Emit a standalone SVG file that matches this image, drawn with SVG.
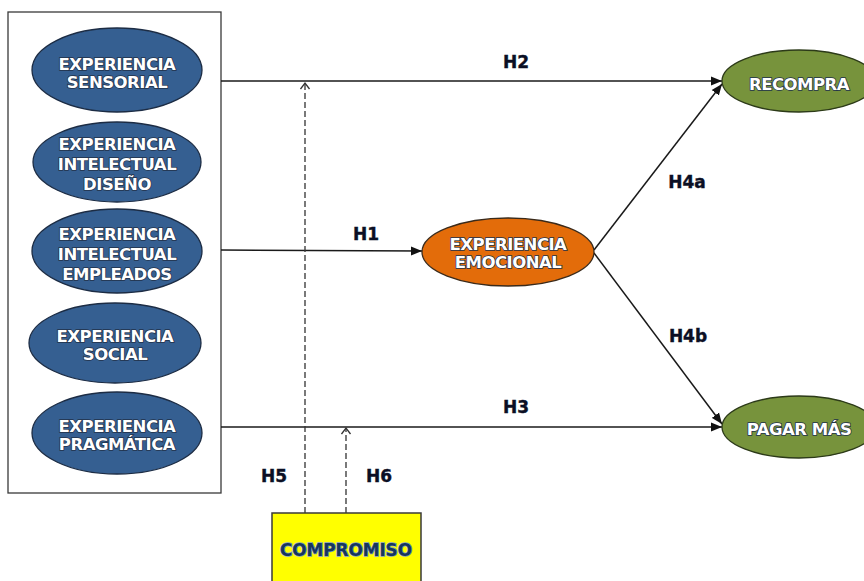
<svg xmlns="http://www.w3.org/2000/svg" width="864" height="581" viewBox="0 0 864 581">
  <style>
    .bg { fill: #ffffff; }
    .frame { fill: #ffffff; stroke: #3a3a3a; stroke-width: 1.3; }
    .blue { fill: #355F91; stroke: #1c2c44; stroke-width: 1.3; }
    .orange { fill: #E36C0A; stroke: #3a2a1a; stroke-width: 1.3; }
    .green { fill: #77933C; stroke: #2c3a18; stroke-width: 1.3; }
    .yellow { fill: #FFFF00; stroke: #3a3a3a; stroke-width: 1.5; }
    .nt { font-family: "DejaVu Sans", Verdana, sans-serif; font-weight: bold; font-size: 16.5px; letter-spacing: -0.5px; fill: #ffffff; stroke: #22324a; stroke-width: 1.6px; paint-order: stroke; text-anchor: middle; }
    .ct { font-family: "DejaVu Sans", Verdana, sans-serif; font-weight: bold; font-size: 17px; letter-spacing: -0.2px; fill: #17365D; stroke: #7fa0c8; stroke-width: 1.4px; paint-order: stroke; text-anchor: middle; }
    .lbl { font-family: "DejaVu Sans", Verdana, sans-serif; font-weight: bold; font-size: 17px; fill: #0b0f24; stroke: #0b0f24; stroke-width: 0.4px; text-anchor: middle; }
    .solid { fill: none; stroke: #1a1a1a; stroke-width: 1.5; }
    .dash { fill: none; stroke: #333333; stroke-width: 1.3; stroke-dasharray: 6 3; }
  </style>
  <defs>
    <marker id="arrow" markerUnits="userSpaceOnUse" markerWidth="12" markerHeight="10" refX="11" refY="5" orient="auto">
      <path d="M0,0.5 L11,5 L0,9.5 z" fill="#111111"/>
    </marker>
    <marker id="chev" markerUnits="userSpaceOnUse" markerWidth="10" markerHeight="12" refX="7" refY="5" orient="auto">
      <path d="M1,0.5 L7,5 L1,9.5" fill="none" stroke="#333333" stroke-width="1.3"/>
    </marker>
  </defs>
  <rect class="bg" x="0" y="0" width="864" height="581"/>

  <g id="frame">
    <rect class="frame" x="8" y="12" width="213" height="481"/>
  </g>

  <g id="connectors">
    <path class="solid" d="M221,81 L722,81" marker-end="url(#arrow)"/>
    <path class="solid" d="M221,250 L422,251" marker-end="url(#arrow)"/>
    <path class="solid" d="M221,427 L722,427" stroke="#444" marker-end="url(#arrow)"/>
    <path class="solid" d="M594,250 L722,84" marker-end="url(#arrow)"/>
    <path class="solid" d="M594,253 L722,424" marker-end="url(#arrow)"/>
    <path class="dash" d="M305,513 L305,83" marker-end="url(#chev)"/>
    <path class="dash" d="M346,513 L346,428" marker-end="url(#chev)"/>
    <text class="lbl" x="516" y="68">H2</text>
    <text class="lbl" x="366" y="240">H1</text>
    <text class="lbl" x="516" y="413">H3</text>
    <text class="lbl" x="687" y="188">H4a</text>
    <text class="lbl" x="688" y="342">H4b</text>
    <text class="lbl" x="274" y="482">H5</text>
    <text class="lbl" x="379" y="482">H6</text>
  </g>

  <g id="sensorial">
    <ellipse class="blue" cx="117" cy="70" rx="85" ry="42"/>
    <text class="nt" x="117" y="70">EXPERIENCIA</text>
    <text class="nt" x="117" y="88">SENSORIAL</text>
  </g>
  <g id="intelectual-diseno">
    <ellipse class="blue" cx="117" cy="162" rx="84" ry="40"/>
    <text class="nt" x="117" y="150">EXPERIENCIA</text>
    <text class="nt" x="117" y="170">INTELECTUAL</text>
    <text class="nt" x="117" y="190">DISEÑO</text>
  </g>
  <g id="intelectual-empleados">
    <ellipse class="blue" cx="117" cy="251" rx="85" ry="42"/>
    <text class="nt" x="117" y="240">EXPERIENCIA</text>
    <text class="nt" x="117" y="260">INTELECTUAL</text>
    <text class="nt" x="117" y="280">EMPLEADOS</text>
  </g>
  <g id="social">
    <ellipse class="blue" cx="115" cy="343" rx="86" ry="40"/>
    <text class="nt" x="115" y="342">EXPERIENCIA</text>
    <text class="nt" x="115" y="360">SOCIAL</text>
  </g>
  <g id="pragmatica">
    <ellipse class="blue" cx="117" cy="433" rx="85" ry="41"/>
    <text class="nt" x="117" y="432">EXPERIENCIA</text>
    <text class="nt" x="117" y="450">PRAGMÁTICA</text>
  </g>
  <g id="emocional">
    <ellipse class="orange" cx="508" cy="252" rx="86" ry="34"/>
    <text class="nt" x="508" y="250" stroke="#5a2a05">EXPERIENCIA</text>
    <text class="nt" x="508" y="268" stroke="#5a2a05">EMOCIONAL</text>
  </g>
  <g id="recompra">
    <ellipse class="green" cx="799" cy="81" rx="77" ry="31"/>
    <text class="nt" x="799" y="90" stroke="#34441a">RECOMPRA</text>
  </g>
  <g id="pagar-mas">
    <ellipse class="green" cx="799" cy="427" rx="77" ry="31"/>
    <text class="nt" x="799" y="435" stroke="#34441a">PAGAR MÁS</text>
  </g>
  <g id="compromiso">
    <rect class="yellow" x="272" y="513" width="149" height="80"/>
    <text class="ct" x="346" y="556">COMPROMISO</text>
  </g>
</svg>
